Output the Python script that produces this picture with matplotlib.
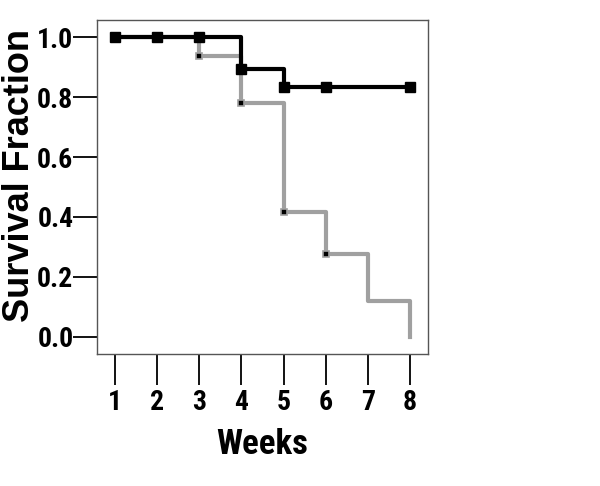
import numpy as np
import matplotlib
matplotlib.use("Agg")
import matplotlib.pyplot as plt
from matplotlib import font_manager

# condensed bold sans for tick numbers, if one is installed
narrow = None
for fam in ['Liberation Sans Narrow', 'Roboto Condensed', 'DejaVu Sans Condensed', 'Arial Narrow']:
    try:
        font_manager.findfont(font_manager.FontProperties(family=fam), fallback_to_default=False)
        narrow = fam
        break
    except Exception:
        pass

plt.rcParams['font.family'] = ([narrow] if narrow else []) + ['Liberation Sans', 'DejaVu Sans']
plt.rcParams['font.weight'] = 'bold'
tick_fs = 20 if narrow else 17
xlab_fs = 25 if narrow else 20
label_family = ['Liberation Sans', 'DejaVu Sans']

# survival curves (step functions)
weeks_black = [1, 4, 5, 8]
surv_black = [1.0, 0.895, 0.833, 0.833]
mark_weeks_black = [1, 2, 3, 4, 5, 6, 8]
mark_surv_black = [1.0, 1.0, 1.0, 0.895, 0.833, 0.833, 0.833]

weeks_gray = [1, 3, 4, 5, 6, 7, 8]
surv_gray = [1.0, 0.9375, 0.78, 0.417, 0.278, 0.12, 0.0]
mark_weeks_gray = [3, 4, 5, 6]
mark_surv_gray = [0.9375, 0.78, 0.417, 0.278]

xticks = [1, 2, 3, 4, 5, 6, 7, 8]
yticks = [0.0, 0.2, 0.4, 0.6, 0.8, 1.0]

fig = plt.figure(figsize=(6, 4.86), dpi=100)
ax = fig.add_axes([97/600, 1-354/486, 331/600, 334/486])

ax.step(weeks_gray, surv_gray, where='post', color='#a0a0a0', lw=3, zorder=2)
ax.plot(mark_weeks_gray, mark_surv_gray, 's', ms=5, mfc='black', mec='#a0a0a0', mew=1.2, zorder=3)
ax.step(weeks_black, surv_black, where='post', color='black', lw=3, zorder=4)
ax.plot(mark_weeks_black, mark_surv_black, 's', ms=7, color='black', zorder=5)

ax.set_xlim(0.573, 8.43)
ax.set_ylim(-0.057, 1.057)
ax.set_xticks(xticks)
ax.set_yticks(yticks)
ax.set_xticklabels([str(v) for v in xticks])
ax.set_yticklabels([f"{v:.1f}" for v in yticks])
ax.tick_params(axis='x', length=22, width=1.3, labelsize=tick_fs, pad=3)
ax.tick_params(axis='y', length=17, width=1.3, labelsize=tick_fs, pad=0)
for s in ax.spines.values():
    s.set_color('#555555')
    s.set_linewidth(1.0)

ax.set_xlabel('Weeks', fontsize=xlab_fs, fontweight='bold')
ax.set_ylabel('Survival Fraction', fontsize=26, fontweight='bold', family=label_family)
ax.xaxis.set_label_coords(0.5, -0.221)
ax.yaxis.set_label_coords(-0.18, 0.533)

fig.savefig('out.png', dpi=100)
